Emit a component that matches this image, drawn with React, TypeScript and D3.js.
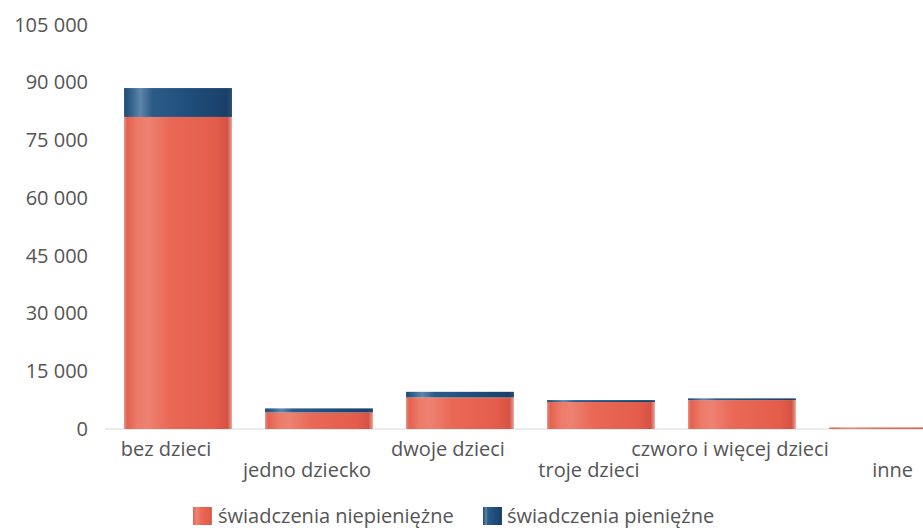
import React from "react";
import * as d3 from "d3";

const categories = ["bez dzieci", "jedno dziecko", "dwoje dzieci", "troje dzieci", "czworo i więcej dzieci", "inne"];
const niepieniezne = [81000, 4300, 8200, 7000, 7500, 400];
const pieniezne = [7500, 1050, 1450, 500, 450, 0];
const yTicks = [0, 15000, 30000, 45000, 60000, 75000, 90000, 105000];
const seriesNames = ["świadczenia niepieniężne", "świadczenia pieniężne"];

const W = 923;
const H = 528;
const FONT = "'Open Sans', 'Noto Sans', sans-serif";
const TEXT = "#555";

export default function App() {
  const x = d3
    .scaleBand<string>()
    .domain(categories)
    .range([110, 951])
    .paddingInner(0.235)
    .paddingOuter(0.1);
  const y = d3.scaleLinear().domain([0, 105000]).range([429, 24.5]);
  const fmt = (v: number) => d3.format(",")(v).replace(/,/g, " ");

  const stack = categories.map((c, i) => ({
    c,
    red: niepieniezne[i],
    blue: pieniezne[i],
  }));

  const labelPos = (c: string) => {
    const bx = x(c) as number;
    if (bx + x.bandwidth() > W) return { x: W - 10, anchor: "end" };
    return { x: bx + x.bandwidth() / 2 - 12, anchor: "middle" };
  };

  return (
    <svg width={W} height={H} style={{ position: "absolute", left: 0, top: 0, background: "#fff" }}>
      <defs>
        <linearGradient id="gRed" x1="0" x2="1" y1="0" y2="0">
          <stop offset="0" stopColor="#e58a7e" />
          <stop offset="0.03" stopColor="#e4624f" />
          <stop offset="0.12" stopColor="#ec7a68" />
          <stop offset="0.22" stopColor="#ee8272" />
          <stop offset="0.42" stopColor="#e96956" />
          <stop offset="0.85" stopColor="#e45d4b" />
          <stop offset="0.96" stopColor="#d55244" />
          <stop offset="1" stopColor="#e9a59c" />
        </linearGradient>
        <linearGradient id="gBlue" x1="0" x2="1" y1="0" y2="0">
          <stop offset="0" stopColor="#1d4a75" />
          <stop offset="0.08" stopColor="#3a6892" />
          <stop offset="0.15" stopColor="#5f85aa" />
          <stop offset="0.26" stopColor="#2c5b88" />
          <stop offset="0.6" stopColor="#1f4e7c" />
          <stop offset="0.95" stopColor="#1a4069" />
          <stop offset="1" stopColor="#2a4c70" />
        </linearGradient>
        <clipPath id="clip">
          <rect x={0} y={0} width={W} height={H} />
        </clipPath>
      </defs>

      {yTicks.map((t) => (
        <text
          key={t}
          x={88}
          y={y(t)}
          dy="0.35em"
          textAnchor="end"
          fontFamily={FONT}
          fontSize={20}
          fill={TEXT}
        >
          {fmt(t)}
        </text>
      ))}

      <line x1={105} x2={W} y1={y(0)} y2={y(0)} stroke="#d8d8d8" strokeWidth={1} />

      <g clipPath="url(#clip)">
        {stack.map((d) => {
          const bx = x(d.c) as number;
          const bw = x.bandwidth();
          return (
            <g key={d.c}>
              <rect
                x={bx}
                y={y(d.red)}
                width={bw}
                height={y(0) - y(d.red)}
                fill="url(#gRed)"
              />
              {d.blue > 0 && (
                <rect
                  x={bx}
                  y={y(d.red + d.blue)}
                  width={bw}
                  height={y(d.red) - y(d.red + d.blue)}
                  fill="url(#gBlue)"
                />
              )}
            </g>
          );
        })}
      </g>

      {categories.map((c, i) => {
        const p = labelPos(c);
        return (
          <text
            key={c}
            x={p.x}
            y={i % 2 === 0 ? 456 : 477}
            textAnchor={p.anchor}
            fontFamily={FONT}
            fontSize={20}
            fill={TEXT}
          >
            {c}
          </text>
        );
      })}

      <g>
        <rect x={193} y={507} width={19} height={18} fill="url(#gRed)" />
        <text x={218} y={523} fontFamily={FONT} fontSize={20} fill={TEXT}>
          {seriesNames[0]}
        </text>
        <rect x={483} y={507} width={19} height={18} fill="url(#gBlue)" />
        <text x={507} y={523} fontFamily={FONT} fontSize={20} fill={TEXT}>
          {seriesNames[1]}
        </text>
      </g>
    </svg>
  );
}
